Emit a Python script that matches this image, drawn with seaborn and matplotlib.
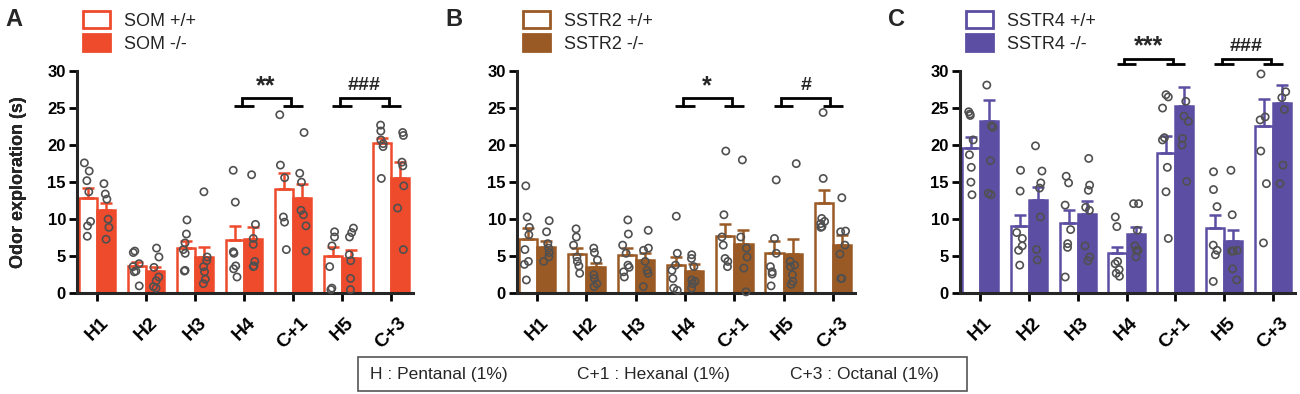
import numpy as np
import pandas as pd
import matplotlib
matplotlib.use("Agg")
import matplotlib.pyplot as plt
from matplotlib.patches import Patch, Rectangle
import seaborn as sns

# ---------------- data ----------------
odors = ["H1", "H2", "H3", "H4", "C+1", "H5", "C+3"]

som_wt_mean = [12.8, 3.7, 6.1, 7.2, 14.1, 5.1, 20.3]
som_wt_sem = [1.4, 0.5, 0.9, 1.9, 2.2, 1.1, 0.7]
som_ko_mean = [11.2, 3.0, 4.9, 7.3, 12.8, 4.8, 15.6]
som_ko_sem = [1.0, 0.6, 1.4, 1.6, 2.0, 1.1, 2.1]
som_wt_pts = [
    [17.6, 16.5, 15.2, 13.7, 9.7, 9.1, 7.7],
    [5.5, 5.7, 4.0, 2.9, 3.0, 1.0, 3.6],
    [9.9, 8.0, 6.8, 5.9, 5.4, 3.0, 3.1],
    [16.6, 12.3, 5.6, 5.4, 3.7, 3.3, 2.2],
    [24.1, 17.3, 15.6, 10.3, 9.6, 5.9],
    [8.3, 6.4, 7.6, 3.6, 0.5, 0.7],
    [22.7, 21.9, 19.8, 20.2, 15.5, 20.7],
]
som_ko_pts = [
    [14.8, 13.4, 12.7, 10.0, 8.9, 7.3],
    [6.1, 4.9, 3.5, 1.7, 2.2, 0.9, 0.7],
    [13.7, 4.9, 4.4, 3.6, 1.9, 1.3, 2.9],
    [16.0, 9.3, 7.4, 6.6, 4.3, 3.7, 3.6],
    [21.7, 16.2, 15.0, 10.6, 11.2, 9.1, 5.7],
    [8.8, 8.2, 5.2, 4.4, 2.0, 0.5, 7.6],
    [21.7, 21.3, 17.7, 17.2, 14.5, 11.5, 5.9],
]

sstr2_wt_mean = [7.3, 5.3, 5.2, 3.8, 7.7, 5.5, 12.2]
sstr2_wt_sem = [1.5, 0.8, 0.9, 1.1, 1.7, 1.5, 1.8]
sstr2_ko_mean = [6.3, 3.5, 4.5, 3.0, 6.6, 5.3, 6.5]
sstr2_ko_sem = [0.8, 0.6, 1.0, 0.9, 2.0, 2.0, 1.4]
sstr2_wt_pts = [
    [14.5, 10.3, 8.9, 7.9, 5.9, 4.3, 3.9, 1.8],
    [8.7, 7.6, 6.5, 4.9, 4.3, 3.7, 2.7],
    [9.9, 8.0, 6.5, 5.4, 3.8, 3.5, 2.2, 2.9],
    [10.4, 5.4, 3.8, 2.0, 3.1, 0.7, 0.4],
    [19.2, 10.6, 7.6, 6.5, 4.7, 3.6, 4.3],
    [15.3, 7.4, 5.4, 3.6, 2.9, 2.6, 1.0],
    [24.4, 15.5, 10.1, 9.7, 9.4, 8.9, 9.0],
]
sstr2_ko_pts = [
    [9.8, 8.3, 6.7, 6.1, 5.5, 4.9, 4.3],
    [6.1, 5.5, 4.5, 2.5, 2.0, 1.3, 0.9],
    [8.5, 6.1, 5.8, 4.3, 3.1, 2.7, 0.9],
    [5.2, 4.7, 3.6, 1.8, 1.3, 0.7, 1.6],
    [18.0, 7.6, 6.1, 4.9, 3.4, 0.2],
    [17.5, 4.3, 3.8, 3.6, 2.5, 1.6, 1.2],
    [12.9, 8.3, 8.4, 6.5, 5.3, 2.0, 2.0],
]

sstr4_wt_mean = [19.6, 9.1, 9.5, 5.4, 19.0, 8.8, 22.6]
sstr4_wt_sem = [1.5, 1.5, 1.7, 0.9, 2.2, 1.8, 3.6]
sstr4_ko_mean = [23.2, 12.6, 10.7, 8.0, 25.3, 7.0, 25.7]
sstr4_ko_sem = [2.9, 1.8, 1.8, 1.0, 2.6, 1.6, 2.4]
sstr4_wt_pts = [
    [24.2, 24.5, 24.0, 20.7, 18.7, 17.0, 15.0, 13.3],
    [16.6, 13.8, 8.2, 7.4, 6.4, 5.8, 3.8],
    [15.8, 14.9, 11.9, 8.6, 6.7, 6.2, 2.2],
    [10.3, 9.0, 4.3, 4.0, 3.2, 2.7, 2.3],
    [26.5, 25.0, 26.8, 21.0, 20.7, 17.0, 13.7, 7.4],
    [16.4, 14.0, 11.7, 6.5, 5.8, 5.2, 1.6],
    [29.6, 23.8, 19.2, 14.8, 6.8, 23.4],
]
sstr4_ko_pts = [
    [28.1, 22.6, 22.4, 17.9, 13.5, 13.3],
    [19.9, 16.5, 14.9, 14.2, 10.3, 5.9, 4.5],
    [18.2, 14.6, 13.9, 11.6, 11.2, 6.4, 4.9, 4.4],
    [12.1, 12.1, 8.5, 6.4, 5.8, 5.8, 4.9],
    [25.9, 23.9, 23.2, 20.9, 20.0, 15.1],
    [16.6, 10.6, 5.8, 5.7, 5.7, 3.3, 1.8],
    [27.2, 26.4, 24.8, 17.3, 14.8],
]

panels = [
    dict(letter="A", gene="SOM", color="#EE4A2C",
         wt_mean=som_wt_mean, wt_sem=som_wt_sem, ko_mean=som_ko_mean, ko_sem=som_ko_sem,
         wt_pts=som_wt_pts, ko_pts=som_ko_pts,
         sig1="**", sig2="###", feet=25.3, top=26.3, txt=28.0),
    dict(letter="B", gene="SSTR2", color="#9A5A26",
         wt_mean=sstr2_wt_mean, wt_sem=sstr2_wt_sem, ko_mean=sstr2_ko_mean, ko_sem=sstr2_ko_sem,
         wt_pts=sstr2_wt_pts, ko_pts=sstr2_ko_pts,
         sig1="*", sig2="#", feet=25.3, top=26.3, txt=28.0),
    dict(letter="C", gene="SSTR4", color="#5C4EA2",
         wt_mean=sstr4_wt_mean, wt_sem=sstr4_wt_sem, ko_mean=sstr4_ko_mean, ko_sem=sstr4_ko_sem,
         wt_pts=sstr4_wt_pts, ko_pts=sstr4_ko_pts,
         sig1="***", sig2="###", feet=30.9, top=31.6, txt=33.3),
]

# ---------------- style ----------------
sns.set_style("ticks")
plt.rcParams["font.family"] = ["Liberation Sans", "DejaVu Sans"]
np.random.seed(7)

W, H = 1300, 394
fig = plt.figure(figsize=(W / 100, H / 100), dpi=100)

ax_left_px = [77, 517, 960]
ax_w_px = [336, 338, 335]
ax_bottom = (H - 293.3) / H
ax_height = (293.3 - 71) / H

for k, p in enumerate(panels):
    ax = fig.add_axes([ax_left_px[k] / W, ax_bottom, ax_w_px[k] / W, ax_height])
    color = p["color"]
    wt_lab = f"{p['gene']} +/+"
    ko_lab = f"{p['gene']} -/-"

    bars = pd.DataFrame({
        "odor": odors * 2,
        "value": list(p["wt_mean"]) + list(p["ko_mean"]),
        "genotype": [wt_lab] * len(odors) + [ko_lab] * len(odors),
    })
    pts_rows = []
    for i, o in enumerate(odors):
        for v in p["wt_pts"][i]:
            pts_rows.append((o, v, wt_lab))
        for v in p["ko_pts"][i]:
            pts_rows.append((o, v, ko_lab))
    pts = pd.DataFrame(pts_rows, columns=["odor", "value", "genotype"])

    sns.barplot(data=bars, x="odor", y="value", hue="genotype", order=odors,
                hue_order=[wt_lab, ko_lab], palette=[color, color], width=0.74,
                errorbar=None, legend=False, ax=ax, zorder=1)
    bar_conts = list(ax.containers[:2])
    for j, cont in enumerate(bar_conts):
        sems = p["wt_sem"] if j == 0 else p["ko_sem"]
        for bar, s in zip(list(cont), sems):
            bar.set_facecolor("white" if j == 0 else color)
            bar.set_edgecolor(color)
            bar.set_linewidth(1.8)
            xc = bar.get_x() + bar.get_width() / 2
            ax.errorbar(xc, bar.get_height(), yerr=[[0], [s]], color=color,
                        lw=1.8, capsize=4, capthick=1.8, zorder=2)

    n_before = len(ax.collections)
    sns.stripplot(data=pts, x="odor", y="value", hue="genotype", order=odors,
                  hue_order=[wt_lab, ko_lab], dodge=True, jitter=0.14,
                  size=5.2, legend=False, ax=ax, zorder=3,
                  palette=["white", "white"])
    for coll in ax.collections[n_before:]:
        coll.set_facecolor("none")
        coll.set_edgecolor("#505050")
        coll.set_linewidth(1.2)
        coll.set_clip_on(False)

    ax.set_xlim(-0.41, 6.45)
    ax.set_ylim(0, 30)
    ax.set_yticks([0, 5, 10, 15, 20, 25, 30])
    sns.despine(ax=ax)
    for sp in ("left", "bottom"):
        ax.spines[sp].set_linewidth(2.2)
    ax.tick_params(axis="both", length=6, width=2.0, colors="black")
    ax.tick_params(axis="y", labelsize=12, pad=2)
    ax.tick_params(axis="x", labelsize=14, pad=9)
    for lbl in ax.get_yticklabels():
        lbl.set_fontweight("bold")
    ax.set_xticks(range(len(odors)))
    ax.set_xticklabels(odors, rotation=45, ha="center", fontweight="bold")
    ax.set_xlabel("")
    ax.set_ylabel("Odor exploration (s)", fontsize=13, fontweight="bold")
    ax.yaxis.set_label_coords((27 - ax_left_px[k]) / ax_w_px[k], 0.5)

    # significance brackets
    for (a, b, s) in [(3, 4, p["sig1"]), (5, 6, p["sig2"])]:
        fy, ty = p["feet"], p["top"]
        for c in (a, b):
            ax.plot([c - 0.2, c + 0.2], [fy, fy], color="black", lw=2, clip_on=False,
                    solid_capstyle="butt")
        ax.plot([a - 0.05, a - 0.05, b - 0.05, b - 0.05], [fy, ty, ty, fy], color="black",
                lw=2, clip_on=False, solid_joinstyle="miter")
        ax.text((a + b) / 2 - 0.05, p["txt"], s, ha="center", va="center",
                fontsize=18 if "*" in s else 14, fontweight="bold", clip_on=False)

    # legend
    handles = [Patch(facecolor="white", edgecolor=color, linewidth=2, label=wt_lab),
               Patch(facecolor=color, edgecolor=color, linewidth=2, label=ko_lab)]
    ax.legend(handles=handles, loc="upper left",
              bbox_to_anchor=((ax_left_px[k] + 6) / W, 1 - 11 / H),
              bbox_transform=fig.transFigure, frameon=False, fontsize=13,
              handlelength=1.5, handleheight=1.05, handletextpad=0.75,
              labelspacing=0.25, borderpad=0, borderaxespad=0)

    fig.text((ax_left_px[k] - 72) / W, 1 - 20 / H, p["letter"], fontsize=17,
             fontweight="bold", ha="left", va="center")

# bottom key box
fig.patches.append(Rectangle((358 / W, (H - 391) / H), (967 - 358) / W, 34 / H,
                             transform=fig.transFigure, fill=False,
                             edgecolor="#555555", linewidth=1.2))
for xpx, t in [(370, "H : Pentanal (1%)"), (577, "C+1 : Hexanal (1%)"),
               (790, "C+3 : Octanal (1%)")]:
    fig.text(xpx / W, (H - 374) / H, t, fontsize=12.5, ha="left", va="center")

fig.savefig("out.png", dpi=100)
